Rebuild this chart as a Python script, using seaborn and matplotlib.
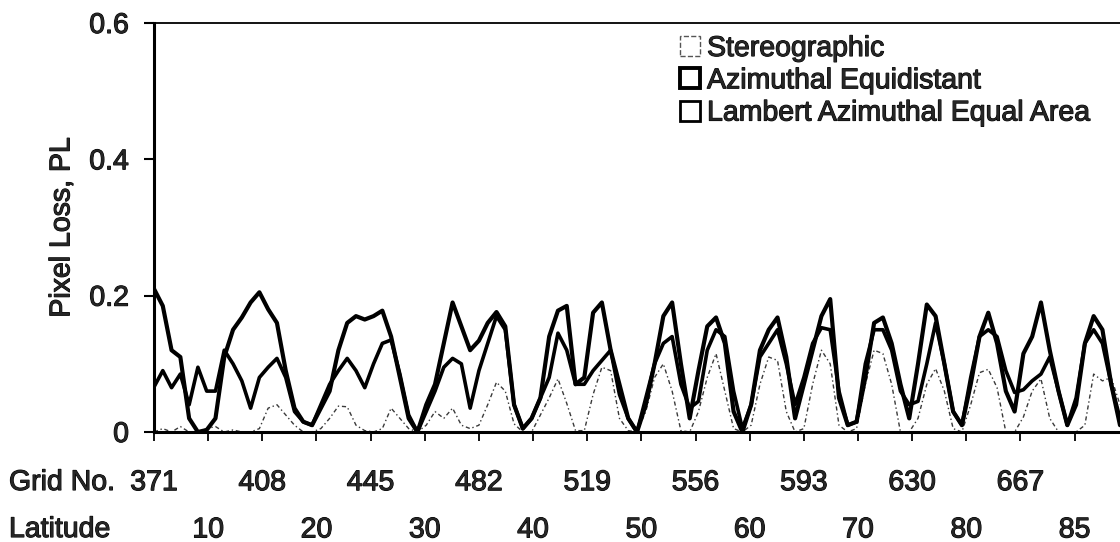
import numpy as np
import pandas as pd
import matplotlib
matplotlib.use("Agg")
import matplotlib.pyplot as plt
from matplotlib.patches import Patch
from matplotlib.text import Text
import matplotlib.patheffects as pe
import seaborn as sns

# Grid numbers sampled every third grid cell along the transect
grid = list(range(371, 702, 3))

stereographic = [
    0.0, 0.005, 0.0, 0.008, 0.0, 0.0, 0.005, 0.008, 0.0, 0.003,
    0.0, 0.0, 0.005, 0.035, 0.04, 0.025, 0.01, 0.0, 0.0, 0.005,
    0.02, 0.038, 0.037, 0.01, 0.002, 0.0, 0.005, 0.035, 0.02, 0.005,
    0.0, 0.01, 0.03, 0.02, 0.035, 0.01, 0.005, 0.01, 0.04, 0.073,
    0.06, 0.012, 0.0, 0.0, 0.025, 0.05, 0.078, 0.042, 0.002, 0.002,
    0.055, 0.095, 0.09, 0.02, 0.002, 0.0, 0.03, 0.08, 0.1, 0.06,
    0.002, 0.0, 0.03, 0.08, 0.115, 0.06, 0.005, 0.0, 0.01, 0.07,
    0.11, 0.105, 0.03, 0.0, 0.005, 0.07, 0.12, 0.1, 0.01, 0.0,
    0.005, 0.07, 0.12, 0.115, 0.07, 0.0, 0.0, 0.02, 0.07, 0.093,
    0.06, 0.005, 0.0, 0.04, 0.087, 0.092, 0.065, 0.0, 0.0, 0.022,
    0.06, 0.078, 0.02, 0.0, 0.0, 0.0, 0.01, 0.085, 0.075, 0.08,
    0.04,
]

azimuthal_equidistant = [
    0.21, 0.185, 0.12, 0.11, 0.02, 0.0, 0.003, 0.02, 0.11, 0.15,
    0.168, 0.19, 0.205, 0.18, 0.16, 0.09, 0.035, 0.015, 0.01, 0.035,
    0.06, 0.12, 0.16, 0.17, 0.165, 0.17, 0.178, 0.14, 0.08, 0.02,
    0.0, 0.04, 0.07, 0.13, 0.19, 0.155, 0.12, 0.134, 0.16, 0.176,
    0.155, 0.04, 0.005, 0.02, 0.05, 0.14, 0.178, 0.185, 0.07, 0.08,
    0.175, 0.19, 0.12, 0.07, 0.02, 0.0, 0.04, 0.1, 0.17, 0.19,
    0.1, 0.02, 0.09, 0.155, 0.168, 0.13, 0.03, 0.0, 0.04, 0.12,
    0.15, 0.168, 0.11, 0.02, 0.07, 0.12, 0.17, 0.195, 0.05, 0.01,
    0.015, 0.08, 0.16, 0.168, 0.13, 0.07, 0.02, 0.1, 0.187, 0.17,
    0.1, 0.03, 0.01, 0.07, 0.14, 0.175, 0.13, 0.06, 0.03, 0.115,
    0.14, 0.19, 0.12, 0.06, 0.01, 0.04, 0.13, 0.17, 0.15, 0.07,
    0.01,
]

lambert_equal_area = [
    0.066, 0.09, 0.065, 0.085, 0.04, 0.095, 0.06, 0.06, 0.12, 0.1,
    0.075, 0.035, 0.08, 0.095, 0.108, 0.08, 0.03, 0.015, 0.01, 0.04,
    0.07, 0.09, 0.108, 0.09, 0.065, 0.1, 0.13, 0.135, 0.085, 0.025,
    0.0, 0.03, 0.06, 0.095, 0.108, 0.1, 0.035, 0.09, 0.13, 0.17,
    0.15, 0.04, 0.005, 0.02, 0.05, 0.08, 0.145, 0.12, 0.07, 0.07,
    0.09, 0.105, 0.12, 0.055, 0.02, 0.0, 0.05, 0.1, 0.13, 0.14,
    0.07, 0.035, 0.045, 0.12, 0.15, 0.14, 0.06, 0.005, 0.04, 0.11,
    0.13, 0.15, 0.1, 0.04, 0.08, 0.13, 0.153, 0.15, 0.06, 0.01,
    0.015, 0.1, 0.15, 0.15, 0.12, 0.06, 0.04, 0.045, 0.1, 0.16,
    0.1, 0.03, 0.01, 0.08, 0.14, 0.15, 0.14, 0.09, 0.058, 0.062,
    0.075, 0.085, 0.11, 0.06, 0.01, 0.05, 0.13, 0.15, 0.13, 0.07,
    0.02,
]

grid_ticks = [371, 408, 445, 482, 519, 556, 593, 630, 667]
latitude_ticks = [389.5, 426.5, 463.5, 500.5, 537.5, 574.5, 611.5, 648.5, 685.5]
latitude_labels = ["10", "20", "30", "40", "50", "60", "70", "80", "85"]
y_ticks = [0, 0.2, 0.4, 0.6]
y_labels = ["0", "0.2", "0.4", "0.6"]

sns.set_style("ticks")
plt.rcParams["font.family"] = ["Liberation Sans", "DejaVu Sans"]
FS = 20.5

df = pd.DataFrame({
    "grid": grid,
    "Stereographic": stereographic,
    "Azimuthal Equidistant": azimuthal_equidistant,
    "Lambert Azimuthal Equal Area": lambert_equal_area,
})

W, H = 1120, 542
fig = plt.figure(figsize=(W / 100, H / 100), dpi=100)
ax = fig.add_axes([154 / W, 1 - 432 / H, (W - 154) / W, (432 - 23) / H])

sns.lineplot(data=df, x="grid", y="Stereographic", ax=ax, color="#3a3a3a",
             linewidth=1.0, linestyle=(0, (3, 2, 1, 2)))
sns.lineplot(data=df, x="grid", y="Lambert Azimuthal Equal Area", ax=ax,
             color="black", linewidth=2.6)
sns.lineplot(data=df, x="grid", y="Azimuthal Equidistant", ax=ax,
             color="black", linewidth=3.0)

ax.set_xlim(371, 701)
ax.set_ylim(0, 0.6)
ax.set_yticks(y_ticks)
ax.set_yticklabels(y_labels)
ax.set_xticks(grid_ticks)
ax.set_xticklabels([str(g) for g in grid_ticks])
ax.set_xticks(latitude_ticks, minor=True)
ax.set_xticklabels(latitude_labels, minor=True)
ax.set_xlabel("")
ax.set_ylabel("Pixel Loss, PL", fontsize=FS, labelpad=10)

ax.tick_params(axis="x", which="major", length=6.5, width=1.3, pad=21,
               labelsize=FS, color="black")
ax.tick_params(axis="x", which="minor", length=6.5, width=1.3, pad=55,
               labelsize=FS, color="black")
ax.tick_params(axis="y", length=7, width=1.5, pad=11, labelsize=FS, color="black")

for side in ("left", "bottom"):
    ax.spines[side].set_linewidth(2.2)
    ax.spines[side].set_color("black")
ax.spines["top"].set_linewidth(1.3)
ax.spines["top"].set_color("black")
ax.spines["right"].set_visible(False)

fig.text(9 / W, 1 - 470 / H, "Grid No.", fontsize=FS, va="top", ha="left")
fig.text(9 / W, 1 - 517 / H, "Latitude", fontsize=FS, va="top", ha="left")

handles = [
    Patch(facecolor="white", edgecolor="#555555", linestyle="--", linewidth=1.0),
    Patch(facecolor="white", edgecolor="black", linewidth=2.8),
    Patch(facecolor="white", edgecolor="black", linewidth=2.0),
]
labels = ["Stereographic", "Azimuthal Equidistant", "Lambert Azimuthal Equal Area"]
fig.legend(handles, labels, loc="upper left", bbox_to_anchor=(680 / W, 1 - 36 / H),
           frameon=False, fontsize=FS, handlelength=0.7, handleheight=0.7,
           handletextpad=0.25, labelspacing=0.22, borderpad=0, borderaxespad=0)

# Heavier type, as in the printed figure
heavy = [pe.withStroke(linewidth=0.8, foreground="black")]
for t in fig.findobj(Text):
    if t.get_text():
        t.set_path_effects(heavy)

fig.savefig("out.png", dpi=100)
